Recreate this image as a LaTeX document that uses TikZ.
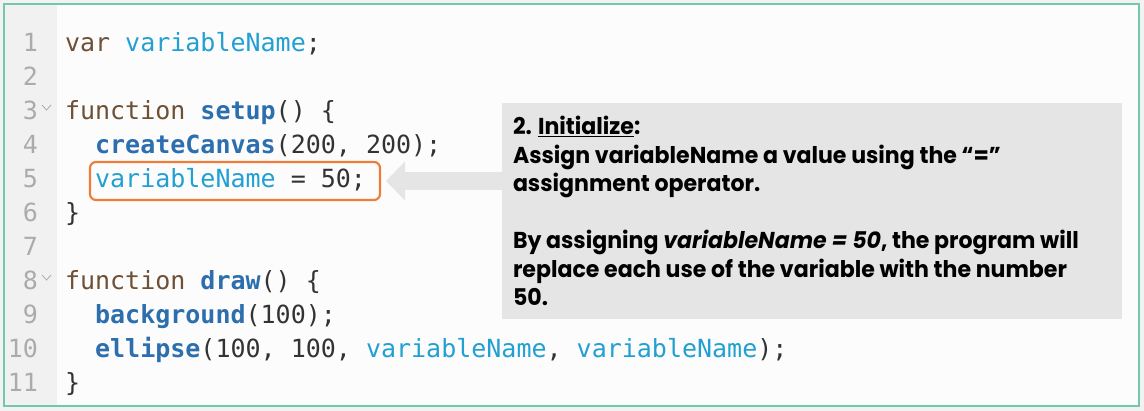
\documentclass[tikz,border=0pt]{standalone}
\usepackage{fontspec}
\usetikzlibrary{arrows.meta}
\newfontfamily\codefont{DejaVu Sans Mono}
\newfontfamily\boxfont[FakeStretch=0.96]{Poppins}
\definecolor{pagebg}{HTML}{F2F2F2}
\definecolor{panelbg}{HTML}{FCFCFC}
\definecolor{gutter}{HTML}{F1F1F1}
\definecolor{framegreen}{HTML}{74C8A9}
\definecolor{lnum}{HTML}{ABABAB}
\definecolor{kw}{HTML}{6E5035}
\definecolor{fn}{HTML}{2D6FAE}
\definecolor{vr}{HTML}{22A0D2}
\definecolor{tx}{HTML}{333333}
\definecolor{hlorange}{HTML}{F07C3A}
\definecolor{infogray}{HTML}{E5E5E5}
\newcommand{\KW}[1]{\textcolor{kw}{#1}}
\newcommand{\FN}[1]{\textcolor{fn}{\bfseries #1}}
\newcommand{\VR}[1]{\textcolor{vr}{#1}}
\begin{document}
\begin{tikzpicture}[x=1pt,y=-1pt,
  codeline/.style={anchor=base west,inner sep=0pt,outer sep=0pt,font=\codefont\fontsize{25}{30}\selectfont,text=tx},
  linenum/.style={anchor=base east,inner sep=0pt,outer sep=0pt,font=\codefont\fontsize{25}{30}\selectfont,text=lnum},
  infotext/.style={anchor=base west,inner sep=0pt,outer sep=0pt,font=\boxfont\bfseries\fontsize{23}{27}\selectfont,text=black},
  hlbox/.style={draw=hlorange,line width=2.2pt,rounded corners=6pt,minimum width=290pt,minimum height=38pt,inner sep=0pt,outer sep=0pt},
  infobox/.style={fill=infogray,minimum width=620pt,minimum height=216pt,inner sep=0pt,outer sep=0pt},
  bigarrow/.style={draw=infogray,line width=18pt,-{Triangle[length=19pt,width=38pt]}},
  fold/.style={draw=lnum,line width=0.8pt}
]
\useasboundingbox (0,0) rectangle (1144,411);
\fill[pagebg] (0,0) rectangle (1144,411);
\filldraw[fill=panelbg,draw=framegreen,line width=2pt] (4,4) rectangle (1139,406);
\fill[gutter] (5,5) rectangle (57,405);

% line numbers
\foreach \n in {1,...,11}{
  \node[linenum] (n\n) at (38,{52+34*(\n-1)}) {\n};
}
% fold markers
\draw[fold] (42,105) -- (46.5,110) -- (51,105);
\draw[fold] (42,275) -- (46.5,280) -- (51,275);

% code
\node[codeline] (c1) at (65,52) {\KW{var} \VR{variableName};};
\node[codeline] (c3) at (65,120) {\KW{function} \FN{setup}() \{};
\node[codeline] (c4) at (95.1,154) {\FN{createCanvas}(200, 200);};
\node[codeline] (c5) at (95.1,188) {\VR{variableName} = 50;};
\node[codeline] (c6) at (65,222) {\}};
\node[codeline] (c8) at (65,290) {\KW{function} \FN{draw}() \{};
\node[codeline] (c9) at (95.1,324) {\FN{background}(100);};
\node[codeline] (c10) at (95.1,358) {\FN{ellipse}(100, 100, \VR{variableName}, \VR{variableName});};
\node[codeline] (c11) at (65,392) {\}};

% highlight box
\node[hlbox] (hl) at (235,181) {};

% info box and arrow
\node[infobox] (info) at (812,211) {};
\draw[bigarrow] (info.west |- hl.east) -- ([xshift=6pt]hl.east);

\node[infotext] (t1) at (513,135) {2. \underline{Initialize}:};
\node[infotext] (t2) at (513,163.5) {Assign variableName a value using the “=”};
\node[infotext] (t3) at (513,192) {assignment operator.};
\node[infotext] (t4) at (513,249) {By assigning \textit{variableName = 50}, the program will};
\node[infotext] (t5) at (513,277.5) {replace each use of the variable with the number};
\node[infotext] (t6) at (513,306) {50.};
\end{tikzpicture}
\end{document}
